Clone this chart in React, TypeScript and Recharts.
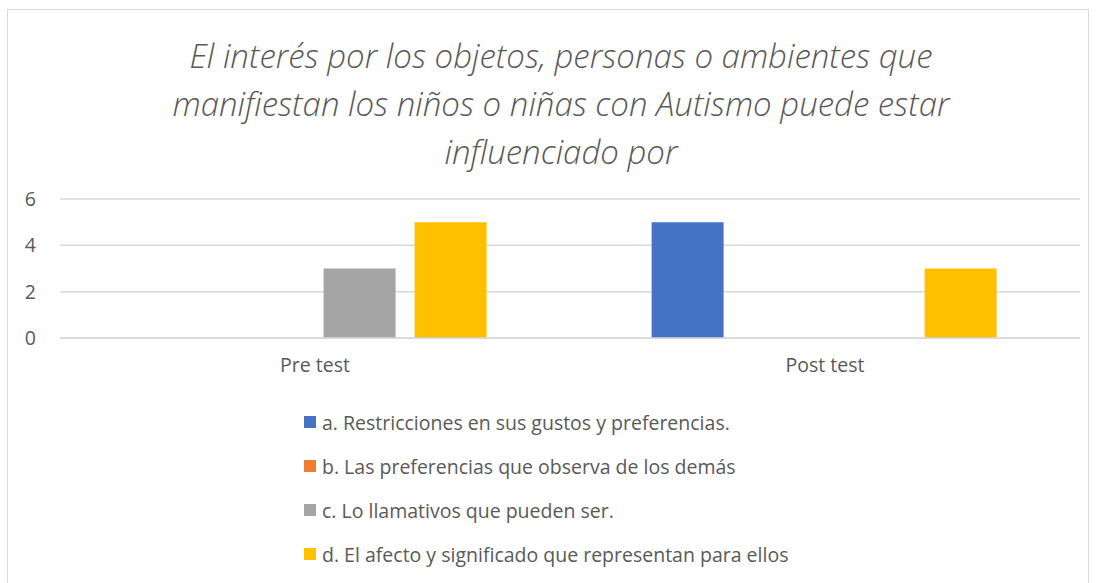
import { Bar, BarChart, CartesianGrid, XAxis, YAxis } from "recharts"

const categories = ["Pre test", "Post test"]
const seriesA = [0, 5]
const seriesB = [0, 0]
const seriesC = [3, 0]
const seriesD = [5, 3]
const yTicks = [0, 2, 4, 6]

const seriesNames = [
  "a. Restricciones en sus gustos y preferencias.",
  "b. Las preferencias que observa de los demás",
  "c. Lo llamativos que pueden ser.",
  "d. El afecto y significado que representan para ellos",
]
const seriesColors = ["#4472C4", "#ED7D31", "#A5A5A5", "#FFC000"]
const titleLines = [
  "El interés por los objetos, personas o ambientes que",
  "manifiestan los niños o niñas con Autismo puede estar",
  "influenciado por",
]

const data = categories.map((name, i) => ({
  name,
  a: seriesA[i],
  b: seriesB[i],
  c: seriesC[i],
  d: seriesD[i],
}))

const font = "'Open Sans', 'Noto Sans', sans-serif"
const textColor = "#595959"

const LegendList = () => (
  <div style={{ position: "absolute", left: 304, top: 400 }}>
    {seriesNames.map((n, i) => (
      <div
        key={n}
        style={{ display: "flex", alignItems: "center", height: 44, fontFamily: font, fontSize: 19.5, color: textColor, whiteSpace: "nowrap" }}
      >
        <span style={{ display: "inline-block", width: 12, height: 12, background: seriesColors[i], marginRight: 6 }} />
        <span>{n}</span>
      </div>
    ))}
  </div>
)

export default function App() {
  return (
    <div style={{ position: "absolute", left: 0, top: 0, width: 1097, height: 583, background: "#fff", overflow: "hidden" }}>
      <div
        style={{
          position: "absolute",
          left: 7,
          top: 9,
          width: 1082,
          height: 600,
          border: "1px solid #d9d9d9",
          boxSizing: "border-box",
        }}
      />
      <div style={{ position: "absolute", left: 0, top: 0 }}>
        <BarChart
          width={1097}
          height={583}
          data={data}
          margin={{ top: 199, right: 17, bottom: 0, left: 0 }}
          barCategoryGap="16%"
          barGap={19}
        >
          <CartesianGrid vertical={false} stroke="#d9d9d9" strokeWidth={1.5} />
          <XAxis
            dataKey="name"
            height={245}
            axisLine={{ stroke: "#d9d9d9", strokeWidth: 1.5 }}
            tickLine={false}
            tick={{ fill: textColor, fontSize: 19.5, fontFamily: font }}
            tickMargin={14}
          />
          <YAxis
            width={60}
            domain={[0, 6]}
            ticks={yTicks}
            axisLine={false}
            tickLine={false}
            tick={{ fill: textColor, fontSize: 19.5, fontFamily: font }}
            tickMargin={18}
          />
          <Bar dataKey="a" name={seriesNames[0]} fill={seriesColors[0]} isAnimationActive={false} />
          <Bar dataKey="b" name={seriesNames[1]} fill={seriesColors[1]} isAnimationActive={false} />
          <Bar dataKey="c" name={seriesNames[2]} fill={seriesColors[2]} isAnimationActive={false} />
          <Bar dataKey="d" name={seriesNames[3]} fill={seriesColors[3]} isAnimationActive={false} />
        </BarChart>
      </div>
      <LegendList />
      {titleLines.map((t, i) => (
        <div
          key={t}
          style={{
            position: "absolute",
            left: 0,
            width: 1122,
            top: 38 + i * 48,
            textAlign: "center",
            fontFamily: font,
            fontStyle: "italic",
            fontWeight: 300,
            fontSize: 33,
            lineHeight: "36px",
            color: textColor,
            whiteSpace: "nowrap",
          }}
        >
          {t}
        </div>
      ))}
    </div>
  )
}
